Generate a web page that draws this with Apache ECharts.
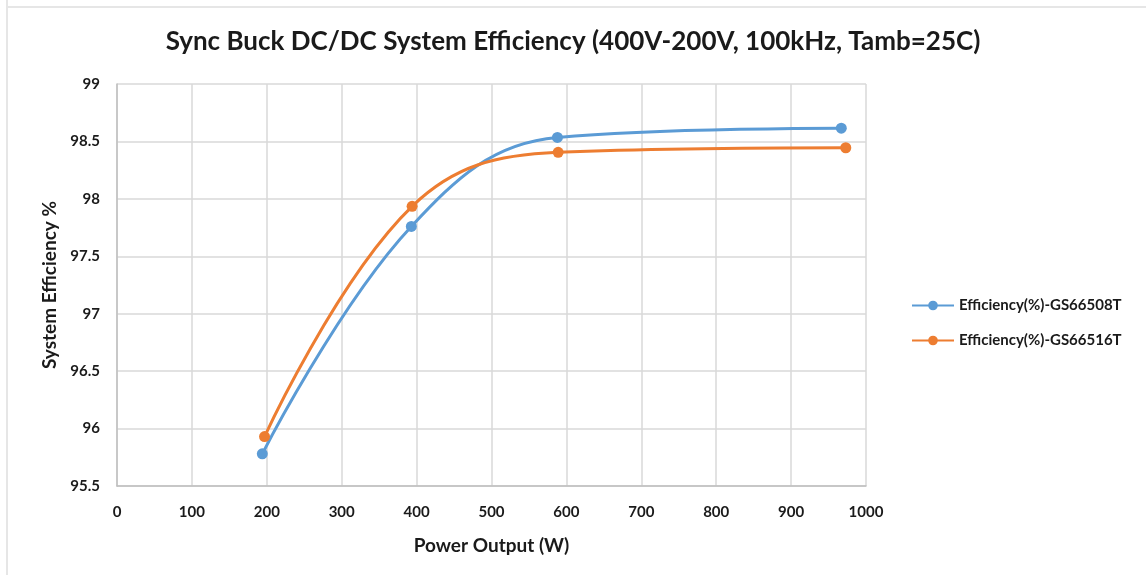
<!DOCTYPE html>
<html>
<head>
<meta charset="utf-8">
<script src="https://cdn.jsdelivr.net/npm/echarts@6/dist/echarts.min.js"></script>
<style>
    html, body { margin: 0; padding: 0; background: #fff; }
    #chart { width: 1146px; height: 575px; }
</style>
</head>
<body>
<div id="chart"></div>
<script>
/* efficiency curves */
var names = ['Efficiency(%)-GS66508T', 'Efficiency(%)-GS66516T'];
var power508 = [194, 393, 588, 967];
var eff508 = [95.78, 97.76, 98.535, 98.615];
var power516 = [197, 394, 589, 973];
var eff516 = [95.93, 97.935, 98.405, 98.445];
var yTicks = [95.5, 96, 96.5, 97, 97.5, 98, 98.5, 99];

function pairs(xs, ys) {
    var out = [];
    for (var i = 0; i < xs.length; i++) {
        out.push([xs[i], ys[i]]);
    }
    return out;
}

var font = 'Lato, "Open Sans", sans-serif';
var myChart = echarts.init(document.getElementById('chart'));
var option = {
    animation: false,
    title: {
        text: 'Sync Buck DC/DC System Efficiency (400V-200V, 100kHz, Tamb=25C)',
        left: 'center',
        top: 24,
        textStyle: {
            fontFamily: font,
            fontWeight: 'bold',
            fontSize: 26,
            color: '#1a1a1a'
        }
    },
    legend: {
        orient: 'vertical',
        left: 906,
        top: 293,
        itemWidth: 42,
        itemHeight: 12,
        itemGap: 20,
        textStyle: {
            fontFamily: font,
            fontWeight: 'bold',
            fontSize: 15,
            color: '#1a1a1a'
        },
        data: names
    },
    grid: {
        left: 117,
        right: 280,
        top: 84,
        bottom: 89
    },
    xAxis: {
        type: 'value',
        min: 0,
        max: 1000,
        interval: 100,
        name: 'Power Output (W)',
        nameLocation: 'middle',
        nameGap: 50,
        nameTextStyle: {
            fontFamily: font,
            fontWeight: 'bold',
            fontSize: 19,
            color: '#1a1a1a'
        },
        axisLine: { lineStyle: { color: '#bfbfbf', width: 1.5 } },
        axisTick: { show: false },
        axisLabel: {
            margin: 19,
            fontFamily: font,
            fontWeight: 'bold',
            fontSize: 15,
            color: '#1a1a1a',
            formatter: function (v) { return String(v); }
        },
        splitLine: { show: true, lineStyle: { color: '#d9d9d9', width: 1.5 } }
    },
    yAxis: {
        type: 'value',
        min: yTicks[0],
        max: yTicks[yTicks.length - 1],
        interval: 0.5,
        name: 'System Efficiency %',
        nameLocation: 'middle',
        nameGap: 58,
        nameTextStyle: {
            fontFamily: font,
            fontWeight: 'bold',
            fontSize: 19,
            color: '#1a1a1a'
        },
        axisLine: { show: true, lineStyle: { color: '#bfbfbf', width: 1.5 } },
        axisTick: { show: false },
        axisLabel: {
            margin: 17,
            fontFamily: font,
            fontWeight: 'bold',
            fontSize: 15,
            color: '#1a1a1a'
        },
        splitLine: { show: true, lineStyle: { color: '#d9d9d9', width: 1.5 } }
    },
    series: [{
        name: names[0],
        type: 'line',
        smooth: 0.4,
        symbol: 'circle',
        symbolSize: 11,
        itemStyle: { color: '#5b9bd5' },
        lineStyle: { color: '#5b9bd5', width: 3 },
        data: pairs(power508, eff508)
    }, {
        name: names[1],
        type: 'line',
        smooth: 0.4,
        symbol: 'circle',
        symbolSize: 11,
        itemStyle: { color: '#ed7d31' },
        lineStyle: { color: '#ed7d31', width: 3 },
        data: pairs(power516, eff516)
    }],
    graphic: [{
        type: 'line',
        shape: { x1: 7, y1: 0, x2: 7, y2: 575 },
        style: { stroke: '#e6e6e6', lineWidth: 2 }
    }, {
        type: 'line',
        shape: { x1: 7, y1: 7, x2: 1146, y2: 7 },
        style: { stroke: '#e6e6e6', lineWidth: 2 }
    }]
};
myChart.setOption(option);
</script>
</body>
</html>
